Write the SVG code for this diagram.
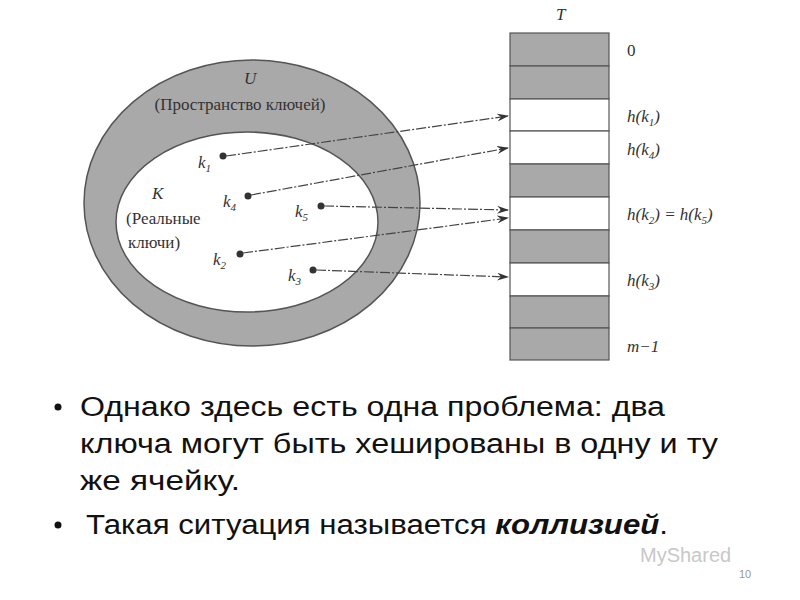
<svg xmlns="http://www.w3.org/2000/svg" width="800" height="600" viewBox="0 0 800 600">
<style>
.it{font-family:"Liberation Serif",serif;font-style:italic;font-size:17px;fill:#333}
.sub{font-size:11px}
.rm{font-family:"Liberation Serif",serif;font-size:17px;fill:#333}
.g{fill:#a9a9a9;stroke:#555;stroke-width:1.2}
.w{fill:#fff;stroke:#555;stroke-width:1.2}
.c{stroke:#444;stroke-width:1.2;fill:none;stroke-dasharray:10 2 2 2;marker-end:url(#a)}
.b{font-family:"Liberation Sans",sans-serif;font-size:27px;fill:#111}
</style>
<defs><marker id="a" markerWidth="12" markerHeight="8" refX="11" refY="4" orient="auto" markerUnits="userSpaceOnUse"><path d="M0,0 L12,4 L0,8 L4,4 Z" fill="#333"/></marker></defs>
<rect width="800" height="600" fill="#fff"/>
<g id="universe">
<ellipse cx="252" cy="203" rx="168" ry="143" fill="#a9a9a9" stroke="#555" stroke-width="1.5"/>
<text class="it" x="244" y="84">U</text>
<text class="rm" x="240" y="110" text-anchor="middle">(Пространство ключей)</text>
</g>
<g id="keys">
<ellipse cx="247" cy="222" rx="131" ry="90" fill="#fff" stroke="#555" stroke-width="1.5"/>
<text class="it" x="152" y="199">K</text>
<text class="rm" x="126" y="224">(Реальные</text>
<text class="rm" x="128" y="248">ключи)</text>
</g>
<g id="table">
<rect class="g" x="510" y="33" width="99" height="33"/>
<rect class="g" x="510" y="66" width="99" height="33"/>
<rect class="w" x="510" y="99" width="99" height="32"/>
<rect class="w" x="510" y="131" width="99" height="33"/>
<rect class="g" x="510" y="164" width="99" height="33"/>
<rect class="w" x="510" y="197" width="99" height="33"/>
<rect class="g" x="510" y="230" width="99" height="33"/>
<rect class="w" x="510" y="263" width="99" height="33"/>
<rect class="g" x="510" y="296" width="99" height="32"/>
<rect class="g" x="510" y="328" width="99" height="32"/>
<text class="it" x="556" y="20">T</text>
<text class="rm" x="627" y="56">0</text>
<text class="it" x="627" y="122">h(k<tspan class="sub" dy="4">1</tspan><tspan dy="-4">)</tspan></text>
<text class="it" x="627" y="155">h(k<tspan class="sub" dy="4">4</tspan><tspan dy="-4">)</tspan></text>
<text class="it" x="627" y="220">h(k<tspan class="sub" dy="4">2</tspan><tspan dy="-4">) = h(k</tspan><tspan class="sub" dy="4">5</tspan><tspan dy="-4">)</tspan></text>
<text class="it" x="627" y="286">h(k<tspan class="sub" dy="4">3</tspan><tspan dy="-4">)</tspan></text>
<text class="it" x="627" y="352">m−1</text>
</g>
<g id="k1"><circle cx="223" cy="156" r="3.5" fill="#333"/><text class="it" x="198" y="168">k<tspan class="sub" dy="4">1</tspan></text></g>
<g id="k4"><circle cx="248" cy="196" r="3.5" fill="#333"/><text class="it" x="223" y="207">k<tspan class="sub" dy="4">4</tspan></text></g>
<g id="k5"><circle cx="321" cy="206" r="3.5" fill="#333"/><text class="it" x="295" y="217">k<tspan class="sub" dy="4">5</tspan></text></g>
<g id="k2"><circle cx="240" cy="254" r="3.5" fill="#333"/><text class="it" x="213" y="265">k<tspan class="sub" dy="4">2</tspan></text></g>
<g id="k3"><circle cx="313" cy="270" r="3.5" fill="#333"/><text class="it" x="288" y="281">k<tspan class="sub" dy="4">3</tspan></text></g>
<g id="connectors">
<line class="c" x1="226" y1="156" x2="508" y2="116"/>
<line class="c" x1="251" y1="195" x2="508" y2="148"/>
<line class="c" x1="324" y1="206" x2="508" y2="210"/>
<line class="c" x1="243" y1="253" x2="508" y2="218"/>
<line class="c" x1="316" y1="270" x2="508" y2="277"/>
</g>
<g id="bullets">
<circle cx="58" cy="407" r="3.5" fill="#111"/>
<text class="b" x="80" y="416" textLength="585" lengthAdjust="spacingAndGlyphs">Однако здесь есть одна проблема: два</text>
<text class="b" x="80" y="453" textLength="638" lengthAdjust="spacingAndGlyphs">ключа могут быть хешированы в одну и ту</text>
<text class="b" x="80" y="490" textLength="160" lengthAdjust="spacingAndGlyphs">же ячейку.</text>
<circle cx="58" cy="525" r="3.5" fill="#111"/>
<text class="b" x="86" y="534" textLength="582" lengthAdjust="spacingAndGlyphs">Такая ситуация называется <tspan font-weight="bold" font-style="italic">коллизией</tspan>.</text>
</g>
<text x="640" y="562" font-family="Liberation Sans,sans-serif" font-size="20" fill="#c8c8c8">MyShared</text>
<text x="745" y="578" font-family="Liberation Sans,sans-serif" font-size="11" fill="#999" text-anchor="middle">10</text>
</svg>
